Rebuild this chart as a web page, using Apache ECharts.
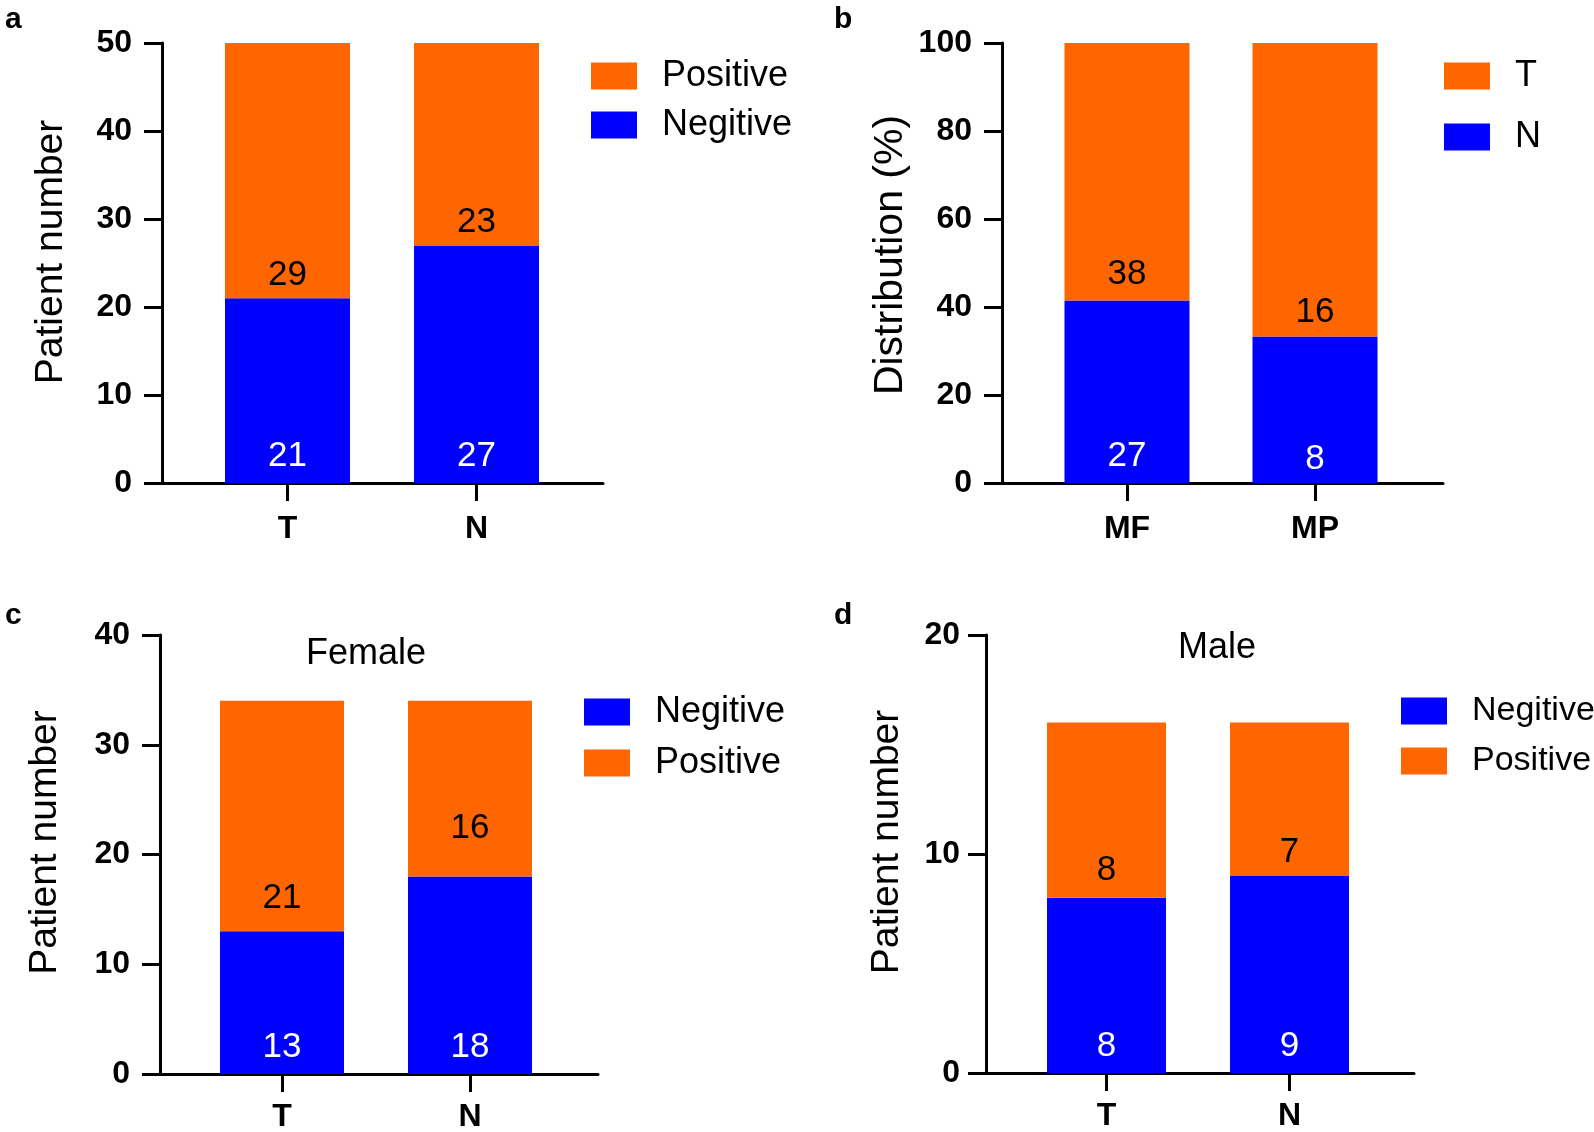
<!DOCTYPE html>
<html>
<head>
<meta charset="utf-8">
<script src="https://cdn.jsdelivr.net/npm/echarts@6/dist/echarts.min.js"></script>
<style>
html,body{margin:0;padding:0;background:#fff;}
#chart{width:1594px;height:1132px;}
</style>
</head>
<body>
<div id="chart"></div>
<script>
// ---- data ----
const catsA = ['T', 'N'];
const aNegitive = [21, 27];
const aPositive = [29, 23];

const catsB = ['MF', 'MP'];
const bNPercent = [41.5, 33.3];
const bTPercent = [58.5, 66.7];
const bNCount = [27, 8];
const bTCount = [38, 16];

const catsC = ['T', 'N'];
const cNegitive = [13, 18];
const cPositive = [21, 16];

const catsD = ['T', 'N'];
const dNegitive = [8, 9];
const dPositive = [8, 7];

const yTicksA = [0, 50, 10];
const yTicksB = [0, 100, 20];
const yTicksC = [0, 40, 10];
const yTicksD = [0, 20, 10];

// ---- styles ----
const FONT = '"Liberation Sans", Arial, Helvetica, sans-serif';
const ORANGE = '#FF6600';
const BLUE = '#0000FF';
const AXIS_W = 3;

// frame grids (axis lines) and bar grids (category placement)
const frames = [
  { left: 162, top: 43, width: 441, height: 440 },
  { left: 1002, top: 43, width: 441, height: 440 },
  { left: 160, top: 635, width: 438, height: 439 },
  { left: 986, top: 635, width: 428, height: 438 }
];
const barGrids = [
  { left: 193, top: 43, width: 378, height: 440 },
  { left: 1033, top: 43, width: 376, height: 440 },
  { left: 188, top: 635, width: 376, height: 439 },
  { left: 1015, top: 635, width: 366, height: 438 }
];

function frameX(idx) {
  return {
    type: 'value', gridIndex: idx, min: 0, max: 1,
    splitLine: { show: false }, axisTick: { show: false }, axisLabel: { show: false },
    axisLine: { show: true, lineStyle: { color: '#000', width: AXIS_W } }
  };
}
function catX(idx, cats, margin) {
  return {
    type: 'category', gridIndex: idx, data: cats,
    axisLine: { show: false },
    axisTick: { show: true, alignWithLabel: true, length: 18, lineStyle: { color: '#000', width: AXIS_W } },
    axisLabel: { margin: margin, color: '#000', fontFamily: FONT, fontWeight: 'bold', fontSize: 32 }
  };
}
function frameY(idx, t, name, gap, nameSize, shiftUp, labelMargin) {
  return {
    type: 'value', gridIndex: idx, min: t[0], max: t[1], interval: t[2],
    name: name, nameLocation: 'middle', nameGap: gap,
    nameTextStyle: { color: '#000', fontFamily: FONT, fontSize: nameSize, padding: [0, 0, 0, shiftUp * 2] },
    splitLine: { show: false },
    axisLine: { show: true, lineStyle: { color: '#000', width: AXIS_W } },
    axisTick: { show: true, length: 18, lineStyle: { color: '#000', width: AXIS_W } },
    axisLabel: { margin: labelMargin, color: '#000', fontFamily: FONT, fontWeight: 'bold', fontSize: 32 }
  };
}
function hiddenY(idx, t) {
  return { type: 'value', gridIndex: idx, min: t[0], max: t[1], interval: t[2], show: false, splitLine: { show: false } };
}
function barSeries(axisIdx, name, values, color, labelColor, labels, bw, stackName, perItemDist) {
  return {
    type: 'bar', name: name, xAxisIndex: axisIdx, yAxisIndex: axisIdx, stack: stackName,
    barWidth: bw,
    data: values.map((v, i) => ({ value: v, label: { distance: perItemDist[i] } })),
    itemStyle: { color: color },
    label: {
      show: true, position: 'insideBottom',
      color: labelColor, fontFamily: FONT, fontSize: 35,
      formatter: p => String(labels[p.dataIndex])
    },
    emphasis: { disabled: true }
  };
}
function legendFor(names, left, top, gap, fontSize) {
  return {
    data: names, left: left, top: top, orient: 'vertical',
    itemWidth: 46, itemHeight: 27, itemGap: gap, icon: 'rect', padding: 0,
    selectedMode: false,
    textStyle: { color: '#000', fontFamily: FONT, fontSize: fontSize, padding: [0, 0, 0, 20] }
  };
}
function letter(t, left, top) {
  return { text: t, left: left, top: top, padding: 0, textStyle: { fontFamily: FONT, fontWeight: 'bold', fontSize: 30, color: '#000' } };
}

const option = {
  animation: false,
  backgroundColor: '#fff',
  title: [
    letter('a', 5, 5), letter('b', 834, 5), letter('c', 5, 601), letter('d', 834, 601),
    { text: 'Female', left: 366, top: 636, textAlign: 'center', padding: 0, textStyle: { fontFamily: FONT, fontWeight: 'normal', fontSize: 36, color: '#000' } },
    { text: 'Male', left: 1217, top: 630, textAlign: 'center', padding: 0, textStyle: { fontFamily: FONT, fontWeight: 'normal', fontSize: 36, color: '#000' } }
  ],
  grid: frames.concat(barGrids).map(g => Object.assign({ outerBoundsMode: 'none', containLabel: false }, g)),
  xAxis: [frameX(0), frameX(1), frameX(2), frameX(3), catX(4, catsA, 30), catX(5, catsB, 30), catX(6, catsC, 27), catX(7, catsD, 27)],
  yAxis: [
    frameY(0, yTicksA, 'Patient number', 91, 39, 11, 30),
    frameY(1, yTicksB, 'Distribution (%)', 91, 41, 8, 30),
    frameY(2, yTicksC, 'Patient number', 95, 39, 12, 30),
    frameY(3, yTicksD, 'Patient number', 79, 39, 12, 26),
    hiddenY(4, yTicksA), hiddenY(5, yTicksB), hiddenY(6, yTicksC), hiddenY(7, yTicksD)
  ],
  legend: [
    legendFor(['Positive', 'Negitive'], 591, 58, 13, 36),
    legendFor(['T', 'N'], 1444, 58, 25, 36),
    legendFor(['Negitive', 'Positive'], 584, 694, 15, 36),
    legendFor(['Negitive', 'Positive'], 1401, 694, 16, 34)
  ],
  series: [
    barSeries(4, 'Negitive', aNegitive, BLUE, '#fff', aNegitive, 125, 'a', [9, 9]),
    barSeries(4, 'Positive', aPositive, ORANGE, '#000', aPositive, 125, 'a', [5, 6]),
    barSeries(5, 'N', bNPercent, BLUE, '#fff', bNCount, 125, 'b', [9, 6]),
    barSeries(5, 'T', bTPercent, ORANGE, '#000', bTCount, 125, 'b', [9, 7]),
    barSeries(6, 'Negitive', cNegitive, BLUE, '#fff', cNegitive, 124, 'c', [9, 9]),
    barSeries(6, 'Positive', cPositive, ORANGE, '#000', cPositive, 124, 'c', [15, 31]),
    barSeries(7, 'Negitive', dNegitive, BLUE, '#fff', dNegitive, 119, 'd', [9, 9]),
    barSeries(7, 'Positive', dPositive, ORANGE, '#000', dPositive, 119, 'd', [10, 6])
  ]
};

const chart = echarts.init(document.getElementById('chart'), null, { renderer: 'canvas' });
chart.setOption(option);
</script>
</body>
</html>
